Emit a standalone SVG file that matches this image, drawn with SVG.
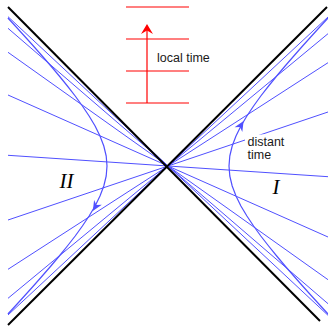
<svg xmlns="http://www.w3.org/2000/svg" width="328" height="326" viewBox="0 0 328 326">
<style>
.bl{stroke:#5050ff;stroke-width:1;fill:none}
.hy{stroke:#5050ff;stroke-width:1.2;fill:none;stroke-linejoin:round}
.cone{stroke:#000;stroke-width:2;fill:none}
.red{stroke:#ff0000;stroke-width:1.2;fill:none}
.lbl{font-family:"Liberation Sans",Arial,sans-serif;font-size:12.5px;fill:#1a1a1a}
.reg{font-family:"Liberation Serif","Times New Roman",serif;font-style:italic;font-size:21px;fill:#000}
</style>
<rect width="328" height="326" fill="#fff"/>
<g id="connectors">
<g id="time-lines">
<line class="bl" x1="8" y1="16.7" x2="328" y2="315.3"/>
<line class="bl" x1="8" y1="28.3" x2="328" y2="303.7"/>
<line class="bl" x1="8" y1="52.3" x2="328" y2="279.7"/>
<line class="bl" x1="8" y1="95" x2="328" y2="237"/>
<line class="bl" x1="8" y1="155.3" x2="328" y2="176.7"/>
<line class="bl" x1="8" y1="220" x2="328" y2="112"/>
<line class="bl" x1="8" y1="269.3" x2="328" y2="62.7"/>
<line class="bl" x1="8" y1="298.3" x2="328" y2="33.7"/>
<line class="bl" x1="8" y1="315" x2="328" y2="17"/>
</g>
<g id="horizons">
<line class="cone" x1="8" y1="7" x2="320" y2="321"/>
<line class="cone" x1="8" y1="325" x2="327" y2="7"/>
</g>
<g id="worldline-I">
<polyline class="hy" points="328.1,18 320.7,26 311.6,36 302.6,46 293.8,56 285.1,66 276.7,76 268.6,86 260.8,96 253.6,106 246.9,116 240.9,126 236,136 232.2,146 229.8,156 229,166 229.8,176 232.2,186 236,196 240.9,206 246.9,216 253.6,226 260.8,236 268.6,246 276.7,256 285.1,266 293.8,276 302.6,286 311.6,296 320.7,306 328.1,314"/>
<path d="M0,0 L-10,-4.5 L-7,0 L-10,4.5 Z" fill="#5050ff" transform="translate(243.6,121) rotate(-59)"/>
</g>
<g id="worldline-II">
<polyline class="hy" points="7.9,18 15.3,26 24.4,36 33.4,46 42.2,56 50.9,66 59.3,76 67.4,86 75.2,96 82.4,106 89.1,116 95.1,126 100,136 103.8,146 106.2,156 107,166 106.2,176 103.8,186 100,196 95.1,206 89.1,216 82.4,226 75.2,236 67.4,246 59.3,256 50.9,266 42.2,276 33.4,286 24.4,296 15.3,306 7.9,314"/>
<path d="M0,0 L-10,-4.5 L-7,0 L-10,4.5 Z" fill="#5050ff" transform="translate(92.8,211) rotate(121)"/>
</g>
</g>
<g id="local-time">
<line class="red" x1="126" y1="7" x2="189" y2="7"/>
<line class="red" x1="126" y1="39" x2="189" y2="39"/>
<line class="red" x1="126" y1="71" x2="189" y2="71"/>
<line class="red" x1="126" y1="103" x2="189" y2="103"/>
<line class="red" x1="147" y1="103" x2="147" y2="30"/>
<path d="M147,24 L153,34 L147,30.5 L141,34 Z" fill="#ff0000"/>
<text class="lbl" x="157" y="61.5">local time</text>
</g>
<g id="distant-time">
<rect x="245" y="134.5" width="44" height="28" fill="#fff"/>
<text class="lbl" x="247.5" y="146">distant</text>
<text class="lbl" x="247.5" y="158.5">time</text>
</g>
<g id="region-I">
<text class="reg" x="272.5" y="194">I</text>
</g>
<g id="region-II">
<text class="reg" x="59.5" y="188">II</text>
</g>
</svg>
